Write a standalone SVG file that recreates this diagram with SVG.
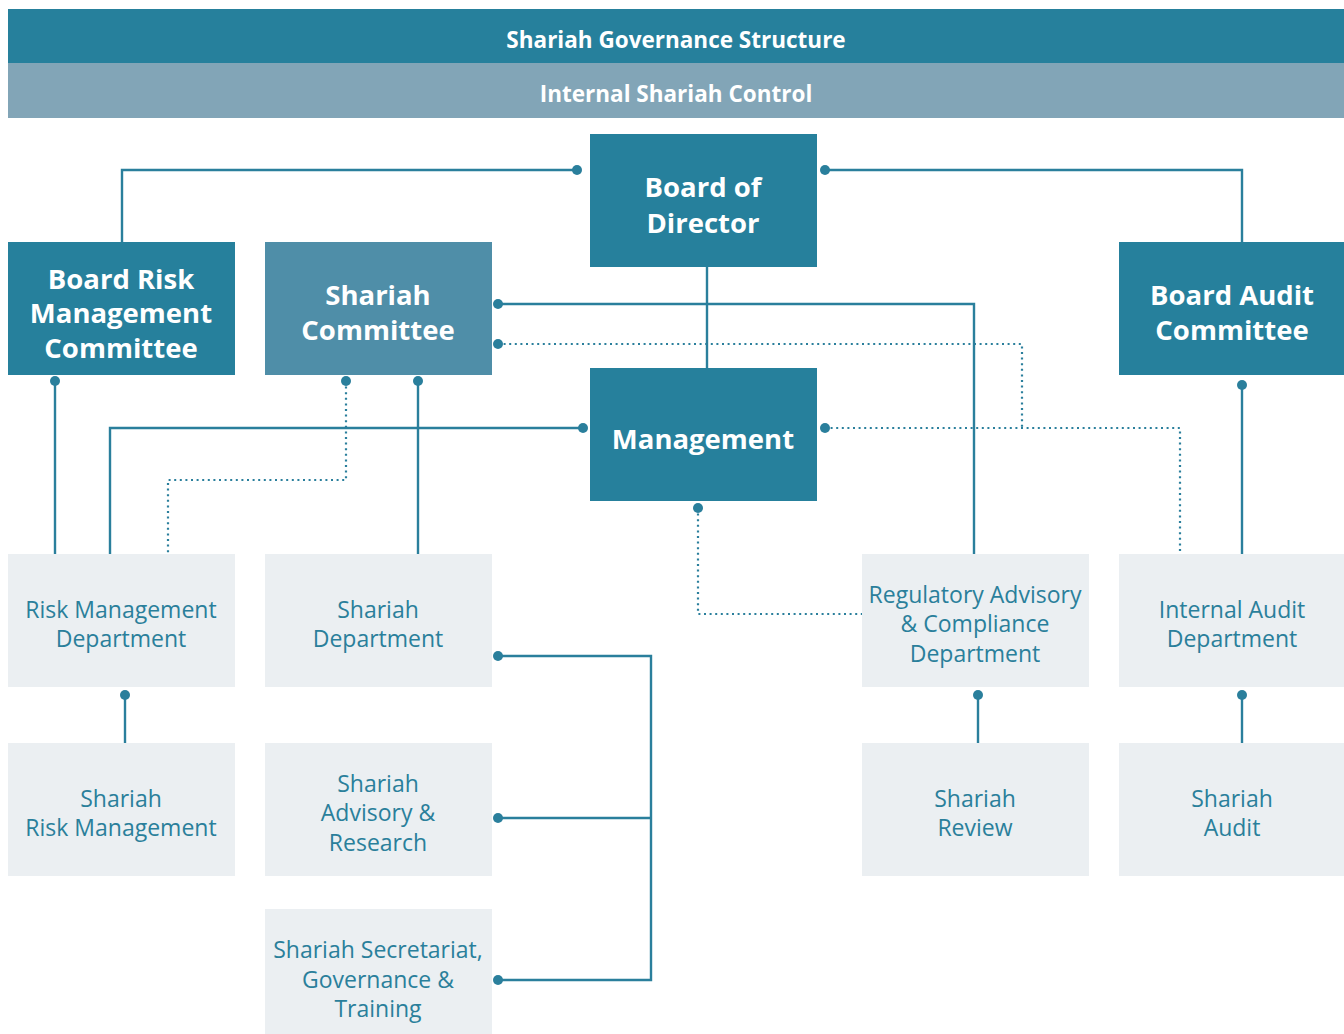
<svg xmlns="http://www.w3.org/2000/svg" width="1344" height="1034" viewBox="0 0 1344 1034">
  <style>
    .dark { fill: #26809c; }
    .mid { fill: #4f8ea8; }
    .light { fill: #ebeff2; }
    .head { font-family: "Open Sans", Lato, sans-serif; font-weight: 700; font-size: 22.5px; fill: #ffffff; text-anchor: middle; }
    .big { font-family: "Open Sans", Lato, sans-serif; font-weight: 700; font-size: 27.5px; fill: #ffffff; text-anchor: middle; }
    .dept { font-family: "Open Sans", Lato, sans-serif; font-weight: 400; font-size: 23px; fill: #2a7f9b; text-anchor: middle; }
    .wire { fill: none; stroke: #2a7f9c; stroke-width: 2.4; }
    .dots { fill: none; stroke: #2a7f9c; stroke-width: 2.2; stroke-dasharray: 2 3.6; }
    .pin { fill: #2a7f9c; }
  </style>
  <rect width="1344" height="1034" fill="#ffffff"/>

  <!-- title bands -->
  <g id="title">
    <rect x="8" y="9" width="1336" height="54" class="dark"/>
    <text x="676" y="48" class="head">Shariah Governance Structure</text>
  </g>
  <g id="subtitle">
    <rect x="8" y="63" width="1336" height="55" fill="#82a5b7"/>
    <text x="676" y="102" class="head">Internal Shariah Control</text>
  </g>

  <!-- connectors -->
  <g id="connectors">
    <path class="wire" d="M577,170 H122 V242"/>
    <path class="wire" d="M825,170 H1242 V242"/>
    <path class="wire" d="M707,267 V368"/>
    <path class="wire" d="M498,304 H974 V554"/>
    <path class="dots" d="M498,344 H1022 V428"/>
    <path class="dots" d="M825,428 H1180 V554"/>
    <path class="wire" d="M583,428 H110 V554"/>
    <path class="wire" d="M55,381 V554"/>
    <path class="dots" d="M346,381 V480 H168 V554"/>
    <path class="wire" d="M418,381 V554"/>
    <path class="dots" d="M698,508 V614 H862"/>
    <path class="wire" d="M1242,385 V554"/>
    <path class="wire" d="M125,695 V743"/>
    <path class="wire" d="M978,695 V743"/>
    <path class="wire" d="M1242,695 V743"/>
    <path class="wire" d="M498,656 H651 V980 H498"/>
    <path class="wire" d="M498,818 H651"/>
    <circle class="pin" cx="577" cy="170" r="5"/>
    <circle class="pin" cx="825" cy="170" r="5"/>
    <circle class="pin" cx="498" cy="304" r="5"/>
    <circle class="pin" cx="498" cy="344" r="5"/>
    <circle class="pin" cx="825" cy="428" r="5"/>
    <circle class="pin" cx="583" cy="428" r="5"/>
    <circle class="pin" cx="55" cy="381" r="5"/>
    <circle class="pin" cx="346" cy="381" r="5"/>
    <circle class="pin" cx="418" cy="381" r="5"/>
    <circle class="pin" cx="698" cy="508" r="5"/>
    <circle class="pin" cx="1242" cy="385" r="5"/>
    <circle class="pin" cx="125" cy="695" r="5"/>
    <circle class="pin" cx="978" cy="695" r="5"/>
    <circle class="pin" cx="1242" cy="695" r="5"/>
    <circle class="pin" cx="498" cy="656" r="5"/>
    <circle class="pin" cx="498" cy="818" r="5"/>
    <circle class="pin" cx="498" cy="980" r="5"/>
  </g>

  <!-- board level -->
  <g id="board-of-director">
    <rect x="590" y="134" width="227" height="133" class="dark"/>
    <text x="703" y="197" class="big">Board of</text>
    <text x="703" y="233" class="big">Director</text>
  </g>
  <g id="board-risk-management-committee">
    <rect x="8" y="242" width="227" height="133" class="dark"/>
    <text x="121" y="289" class="big">Board Risk</text>
    <text x="121" y="323" class="big">Management</text>
    <text x="121" y="358" class="big">Committee</text>
  </g>
  <g id="shariah-committee">
    <rect x="265" y="242" width="227" height="133" class="mid"/>
    <text x="378" y="305" class="big">Shariah</text>
    <text x="378" y="340" class="big">Committee</text>
  </g>
  <g id="board-audit-committee">
    <rect x="1119" y="242" width="225" height="133" class="dark"/>
    <text x="1232" y="305" class="big">Board Audit</text>
    <text x="1232" y="340" class="big">Committee</text>
  </g>
  <g id="management">
    <rect x="590" y="368" width="227" height="133" class="dark"/>
    <text x="703" y="449" class="big">Management</text>
  </g>

  <!-- departments -->
  <g id="risk-management-department">
    <rect x="8" y="554" width="227" height="133" class="light"/>
    <text x="121" y="618" class="dept">Risk Management</text>
    <text x="121" y="647" class="dept">Department</text>
  </g>
  <g id="shariah-department">
    <rect x="265" y="554" width="227" height="133" class="light"/>
    <text x="378" y="618" class="dept">Shariah</text>
    <text x="378" y="647" class="dept">Department</text>
  </g>
  <g id="regulatory-advisory-compliance-department">
    <rect x="862" y="554" width="227" height="133" class="light"/>
    <text x="975" y="603" class="dept">Regulatory Advisory</text>
    <text x="975" y="632" class="dept">&amp; Compliance</text>
    <text x="975" y="662" class="dept">Department</text>
  </g>
  <g id="internal-audit-department">
    <rect x="1119" y="554" width="225" height="133" class="light"/>
    <text x="1232" y="618" class="dept">Internal Audit</text>
    <text x="1232" y="647" class="dept">Department</text>
  </g>

  <!-- units -->
  <g id="shariah-risk-management">
    <rect x="8" y="743" width="227" height="133" class="light"/>
    <text x="121" y="807" class="dept">Shariah</text>
    <text x="121" y="836" class="dept">Risk Management</text>
  </g>
  <g id="shariah-advisory-research">
    <rect x="265" y="743" width="227" height="133" class="light"/>
    <text x="378" y="792" class="dept">Shariah</text>
    <text x="378" y="821" class="dept">Advisory &amp;</text>
    <text x="378" y="851" class="dept">Research</text>
  </g>
  <g id="shariah-review">
    <rect x="862" y="743" width="227" height="133" class="light"/>
    <text x="975" y="807" class="dept">Shariah</text>
    <text x="975" y="836" class="dept">Review</text>
  </g>
  <g id="shariah-audit">
    <rect x="1119" y="743" width="225" height="133" class="light"/>
    <text x="1232" y="807" class="dept">Shariah</text>
    <text x="1232" y="836" class="dept">Audit</text>
  </g>
  <g id="shariah-secretariat-governance-training">
    <rect x="265" y="909" width="227" height="125" class="light"/>
    <text x="378" y="958" class="dept">Shariah Secretariat,</text>
    <text x="378" y="988" class="dept">Governance &amp;</text>
    <text x="378" y="1017" class="dept">Training</text>
  </g>
</svg>
